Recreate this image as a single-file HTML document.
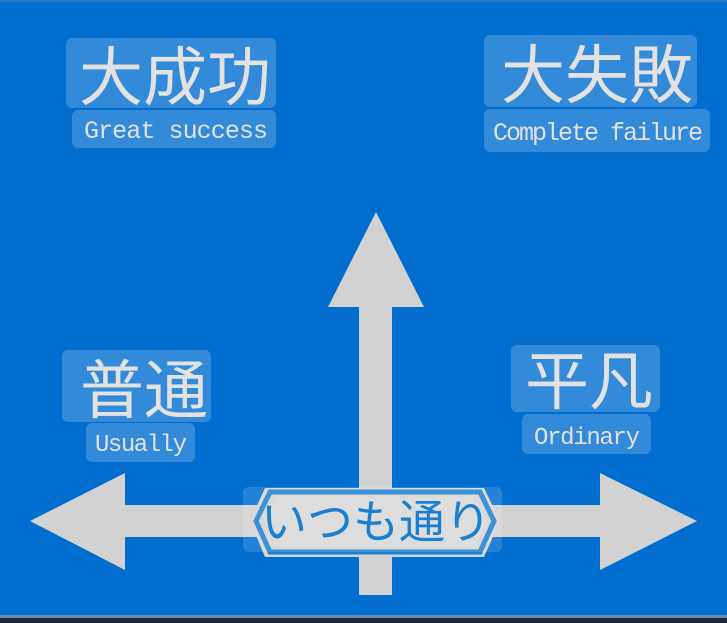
<!DOCTYPE html>
<html><head><meta charset="utf-8"><style>
html,body{margin:0;padding:0;width:727px;height:623px;overflow:hidden;background:#006dcf;}
svg{display:block}
text{font-family:"Liberation Sans","Noto Sans CJK JP",sans-serif;fill:#e2e2e2}
.m{font-family:"Liberation Mono","Noto Sans CJK JP",monospace;}
</style></head><body>
<svg width="727" height="623" viewBox="0 0 727 623">
<rect width="727" height="623" fill="#006dcf"/>
<rect y="0" width="727" height="2" fill="#2a7cc8"/>
<rect y="615" width="727" height="3" fill="#6a8aa8"/>
<rect y="618" width="727" height="5" fill="#1a2a3a"/>
<g fill="#d2d2d2">
<polygon points="376,212 424,307 392,307 392,595 359,595 359,307 328,307"/>
<polygon points="30,521 125,473 125,505 600,505 600,473 697,521 600,570 600,537 125,537 125,570"/>
</g>
<g fill="#ffffff" fill-opacity="0.2">
<rect x="66" y="38" width="210" height="70" rx="6"/>
<rect x="72" y="110" width="204" height="38" rx="6"/>
<rect x="484" y="35" width="213" height="72" rx="6"/>
<rect x="484" y="109" width="226" height="43" rx="6"/>
<rect x="62" y="350" width="149" height="72" rx="6"/>
<rect x="86" y="423" width="109" height="39" rx="6"/>
<rect x="511" y="345" width="149" height="67" rx="6"/>
<rect x="522" y="414" width="129" height="40" rx="6"/>
</g>
<polygon points="265,488 484,488 500,521 484,557 265,557 250,521" fill="#d4d4d4"/>
<polygon points="270,492 480,492 494,521 480,552 270,552 256,521" fill="none" stroke="#1a7fd0" stroke-width="5"/>
<polygon points="276,497 474,497 486,521 474,547 276,547 264,521" fill="#d8d8d8"/>
<rect x="243" y="487" width="259" height="65" rx="6" fill="#ffffff" fill-opacity="0.15"/>
<text x="376" y="538" font-size="46" text-anchor="middle" style="fill:#1a7fd0">いつも通り</text>
<text x="175" y="100" font-size="64" text-anchor="middle">大成功</text>
<text x="176" y="138" font-size="25" text-anchor="middle" class="m" textLength="184">Great success</text>
<text x="597" y="98" font-size="64" text-anchor="middle">大失敗</text>
<text x="598" y="140" font-size="25" text-anchor="middle" class="m" textLength="210">Complete failure</text>
<text x="144" y="413" font-size="64" text-anchor="middle">普通</text>
<text x="141" y="451" font-size="24" text-anchor="middle" class="m" textLength="92">Usually</text>
<text x="589" y="404" font-size="64" text-anchor="middle">平凡</text>
<text x="587" y="444" font-size="24" text-anchor="middle" class="m" textLength="106">Ordinary</text>
</svg>
</body></html>
